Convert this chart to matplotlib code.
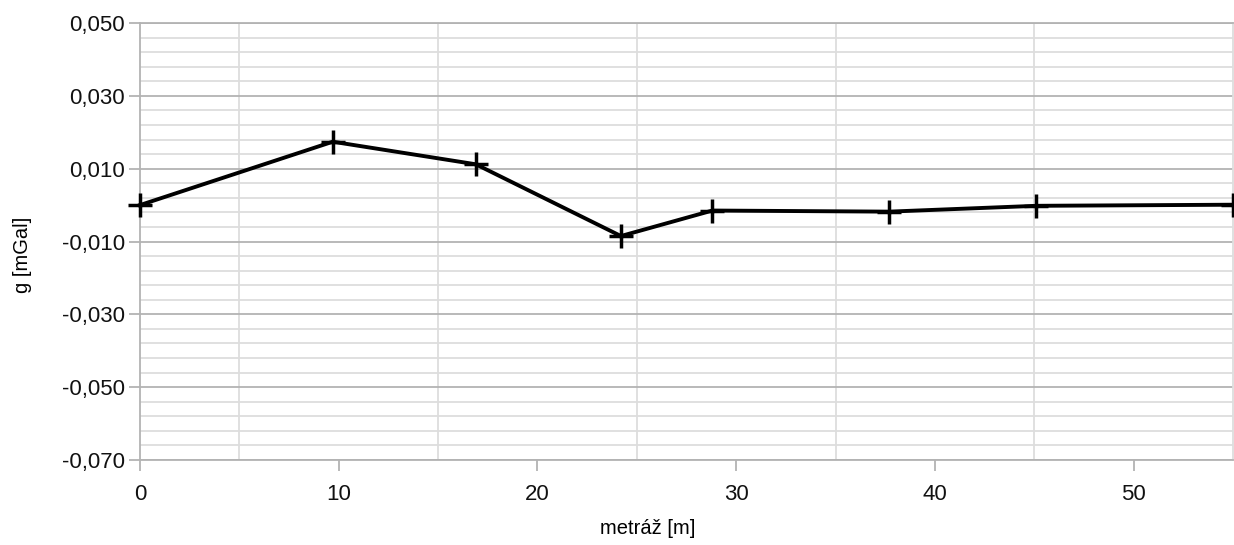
import matplotlib
matplotlib.use('Agg')
import matplotlib.pyplot as plt
from matplotlib.ticker import FuncFormatter, MultipleLocator

plt.rcParams['font.family'] = ['Liberation Sans', 'DejaVu Sans']

# profile: chainage [m] vs. gravity residual [mGal]
metraz = [0.0, 9.7, 16.9, 24.2, 28.8, 37.7, 45.1, 55.0]
g_mgal = [0.0000, 0.0174, 0.0112, -0.0085, -0.0015, -0.0018, -0.0002, 0.0001]

y_ticks = [-0.070, -0.050, -0.030, -0.010, 0.010, 0.030, 0.050]
x_ticks = [0, 10, 20, 30, 40, 50]
x_grid = [5, 15, 25, 35, 45]

W, H = 1234, 545
fig = plt.figure(figsize=(W / 100, H / 100), dpi=100)
ax = fig.add_axes([140 / W, 1 - 460 / H, 1093 / W, 437 / H])

ax.set_xlim(0, 55)
ax.set_ylim(-0.070, 0.050)
ax.set_yticks(y_ticks)
# 4 minor lines between the majors, aligned on -0.070
ax.yaxis.set_minor_locator(MultipleLocator(0.004, offset=0.002))
ax.set_xticks(x_ticks)
ax.set_xticks(x_grid, minor=True)

ax.grid(True, which='major', axis='y', color='#b3b3b3', linewidth=1.3)
ax.grid(True, which='minor', axis='y', color='#dddddd', linewidth=1.3)
ax.grid(True, which='minor', axis='x', color='#dddddd', linewidth=1.3)
ax.set_axisbelow(True)

for s in ax.spines.values():
    s.set_color('#b3b3b3')
    s.set_linewidth(1.3)
ax.spines['right'].set_color('#dddddd')

ax.tick_params(axis='both', which='major', color='#b3b3b3', width=1.3, length=8,
               labelsize=16, labelcolor='#111111', pad=3)
ax.tick_params(axis='both', which='minor', length=0)
ax.tick_params(axis='x', pad=9)

ax.yaxis.set_major_formatter(FuncFormatter(lambda v, p: f'{v:.3f}'.replace('.', ',')))

ax.plot(metraz, g_mgal, color='black', linewidth=2.8, marker='+', markersize=17,
        markeredgewidth=2.5, clip_on=False, zorder=5)

# axis titles placed as in the office-suite export
fig.text(648 / W, 1 - 528 / H, 'metráž [m]', fontsize=14.5, ha='center', va='center')
fig.text(22 / W, 1 - 255 / H, 'g [mGal]', fontsize=14.5, ha='center', va='center',
         rotation=90)

fig.savefig('out.png', dpi=100)
